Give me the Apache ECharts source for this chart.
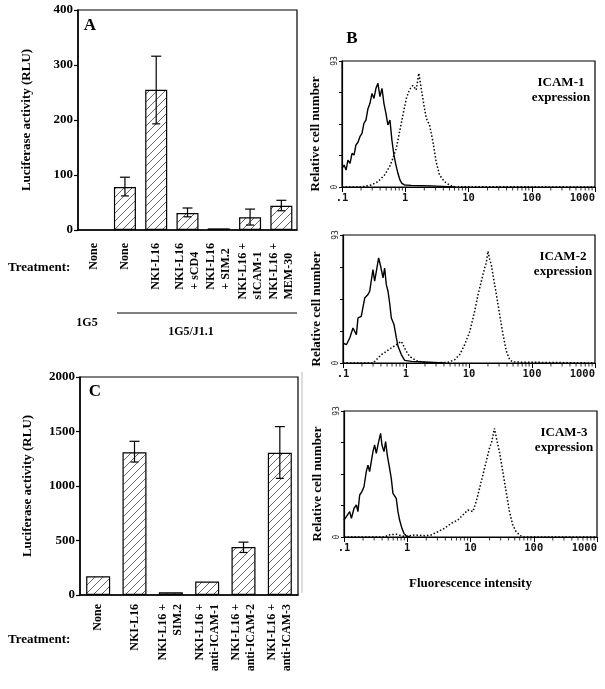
<!DOCTYPE html>
<html><head><meta charset="utf-8">
<script src="https://cdn.jsdelivr.net/npm/echarts@6/dist/echarts.min.js"></script>
<style>html,body{margin:0;padding:0;background:#fff}#c{width:605px;height:689px}</style>
</head><body><div id="c"></div><script>
// ---------- Panel A ----------
const catsA = ['None','None','NKI-L16','NKI-L16\n+ sCD4','NKI-L16\n+ SIM.2','NKI-L16 +\nsICAM-1','NKI-L16 +\nMEM-30'];
const valsA = [null, 78, 255, 31, 3, 23, 44];
const errLowA = [null, 62, 193, 24, null, 9, 35];
const errHighA = [null, 96, 316, 40, null, 38, 54];
// ---------- Panel C ----------
const catsC = ['None','NKI-L16','NKI-L16 +\nSIM.2','NKI-L16 +\nanti-ICAM-1','NKI-L16 +\nanti-ICAM-2','NKI-L16 +\nanti-ICAM-3'];
const valsC = [172, 1310, 25, 124, 440, 1305];
const errLowC = [null, 1220, null, null, 390, 1070];
const errHighC = [null, 1410, null, null, 485, 1545];
// ---------- Panel B (flow cytometry histograms) ----------
const tickLabelsB = ['.1','1','10','100','1000'];
const minorTicksB = [0.2,0.3,0.4,0.5,0.6,0.7,0.8,0.9,2,3,4,5,6,7,8,9,20,30,40,50,60,70,80,90,200,300,400,500,600,700,800,900];
const icam1Solid = [[0.100,13.8],[0.108,16.2],[0.116,12.5],[0.124,19.9],[0.134,17.5],[0.144,24.8],[0.155,23.6],[0.166,31],[0.179,33],[0.192,37.1],[0.207,39.6],[0.222,47],[0.239,49.4],[0.258,58],[0.277,61.8],[0.298,69.1],[0.320,65.4],[0.344,72.8],[0.370,76.5],[0.398,66.7],[0.429,72.8],[0.460,61.8],[0.495,54.4],[0.532,45.8],[0.573,49.4],[0.615,34.7],[0.662,23.6],[0.713,16.2],[0.766,10.1],[0.824,5.2],[0.885,2.7],[0.975,1.5],[1.24,1.2],[1.79,1.0],[2.58,0.8],[4.72,0.3],[6.0,0]];
const icam1Dotted = [[0.1,0],[0.2,0],[0.29,1.5],[0.37,3.9],[0.472,8.9],[0.566,15],[0.638,21.2],[0.721,28.5],[0.815,40.8],[0.918,53.1],[1.04,65.4],[1.17,72],[1.32,75],[1.49,71.6],[1.64,83.9],[1.79,72.8],[1.97,60.5],[2.15,50.7],[2.42,45.8],[2.74,33.5],[3.08,18.7],[3.48,8.9],[4.18,3.9],[5.01,1.5],[6.01,0.2],[1000,0]];
const icam2Solid = [[0.100,14.5],[0.113,13.3],[0.128,18.2],[0.144,25.4],[0.163,20.6],[0.173,32.7],[0.195,33.9],[0.221,47.2],[0.249,49.7],[0.265,52.1],[0.299,67.8],[0.318,59.4],[0.338,66.6],[0.368,76.3],[0.396,70.3],[0.432,61.8],[0.458,69],[0.487,56.9],[0.518,52.1],[0.550,43.6],[0.585,32.7],[0.645,27.9],[0.703,18.2],[0.747,12.1],[0.843,6.1],[0.953,1.9],[1.22,1.2],[1.98,0.7],[4,0]];
const icam2Dotted = [[0.1,0],[0.3,0],[0.338,2.4],[0.406,6.1],[0.487,8.5],[0.585,10.9],[0.703,13.3],[0.843,15.7],[1.01,8.5],[1.14,4.8],[1.37,2.4],[1.55,1.2],[2.5,0],[4.64,0.5],[5.92,2.4],[7.11,6.1],[8.53,13.3],[10.3,23],[12.3,37.5],[13.9,49.7],[15.7,59.4],[17.7,69],[18.8,72.7],[20.0,81.2],[21.3,75.1],[22.6,71.5],[24.0,64.2],[27.2,49.7],[30.7,35.1],[34.7,20.6],[39.2,8.5],[44.3,2.4],[49.9,0.7],[1000,0]];
const icam3Solid = [[0.100,12.5],[0.109,15],[0.123,18.7],[0.131,13.8],[0.144,21.2],[0.157,23.6],[0.166,18.7],[0.177,31],[0.192,33.5],[0.207,37.1],[0.225,48.2],[0.239,53.1],[0.254,48.2],[0.270,55.6],[0.287,63],[0.305,67.9],[0.324,61.7],[0.353,70.4],[0.379,76.5],[0.398,67.9],[0.429,63],[0.455,70.4],[0.483,60.5],[0.526,50.7],[0.559,43.3],[0.594,32.2],[0.670,28.5],[0.713,18.7],[0.757,12.5],[0.824,6.4],[0.885,2.7],[0.964,0.7],[1.1,0]];
const icam3Dotted = [[0.1,0],[0.45,0],[0.495,1.5],[0.67,2],[0.8,1],[0.908,0.5],[1.31,1.5],[1.88,1],[2.39,1.5],[3.05,3.9],[3.88,6.4],[4.95,10.1],[6.31,12.5],[7.57,16.2],[9.08,19.9],[10.9,18.7],[12.3,26.1],[13.9,35.9],[15.7,45.8],[17.7,55.6],[19.9,65.4],[21.7,70.4],[23.9,80.2],[26.4,70.4],[28.7,63],[32.4,48.2],[36.6,33.5],[41.3,18.7],[46.6,8.9],[52.6,3.9],[61.5,1],[70,0],[1000,0]];
const panelsB = [
  {solid: icam1Solid, dotted: icam1Dotted, label: 'ICAM-1\nexpression'},
  {solid: icam2Solid, dotted: icam2Dotted, label: 'ICAM-2\nexpression'},
  {solid: icam3Solid, dotted: icam3Dotted, label: 'ICAM-3\nexpression'}
];

function makeHatch(){
  const c = document.createElement('canvas'); c.width = 8; c.height = 8;
  const g = c.getContext('2d');
  g.strokeStyle = '#555'; g.lineWidth = 0.9;
  g.beginPath();
  g.moveTo(0,8); g.lineTo(8,0);
  g.moveTo(-2,2); g.lineTo(2,-2);
  g.moveTo(6,10); g.lineTo(10,6);
  g.stroke();
  return c;
}
const hatch = {image: makeHatch(), repeat: 'repeat'};
const serif = '"Liberation Serif", "Times New Roman", serif';
const mono = '"DejaVu Sans Mono", monospace';

function errData(lo, hi){
  const out = [];
  lo.forEach((l, i) => { if (l != null) out.push([i, l, hi[i]]); });
  return out;
}
function errRender(params, api){
  const x = api.value(0), lo = api.value(1), hi = api.value(2);
  const a = api.coord([x, lo]), b = api.coord([x, hi]);
  const w = 5, st = {stroke:'#000', lineWidth:1.2};
  return {type:'group', children:[
    {type:'line', shape:{x1:a[0], y1:a[1], x2:b[0], y2:b[1]}, style:st},
    {type:'line', shape:{x1:b[0]-w, y1:b[1], x2:b[0]+w, y2:b[1]}, style:st},
    {type:'line', shape:{x1:a[0]-w+1, y1:a[1], x2:a[0]+w-1, y2:a[1]}, style:st}
  ]};
}

const catLabel = (size, leftAlign) => ({
  rotate: 90, interval: 0, color:'#000', fontFamily: serif, fontWeight:'bold', fontSize: size, lineHeight: 15,
  formatter: leftAlign ? (v => v.split('\n').map(s => '{l|' + s + '}').join('\n')) : undefined,
  rich: leftAlign ? {l: {align:'left', fontFamily: serif, fontWeight:'bold', fontSize: size, lineHeight: 15, color:'#000'}} : undefined
});

const grids = [
  {left:78, top:10, width:219, height:220},
  {left:80, top:377, width:218, height:218},
  {left:342, top:61, width:253, height:126},
  {left:343, top:235, width:252, height:128},
  {left:344, top:411, width:253, height:126}
].map(g => Object.assign({show:true, borderColor:'#000', borderWidth:1.2, containLabel:false, outerBoundsMode:'none'}, g));

const plainNum = v => String(v);
const xAxes = [
  {gridIndex:0, type:'category', data: catsA,
    axisLine:{lineStyle:{color:'#000', width:1.5}},
    axisTick:{alignWithLabel:true, length:5, lineStyle:{color:'#000', width:1.2}},
    axisLabel: Object.assign(catLabel(12, true), {margin: 13})},
  {gridIndex:1, type:'category', data: catsC,
    axisLine:{lineStyle:{color:'#000', width:1.5}},
    axisTick:{alignWithLabel:true, length:5, lineStyle:{color:'#000', width:1.2}},
    axisLabel: Object.assign(catLabel(12, false), {margin: 9})}
];
const yAxes = [
  {gridIndex:0, type:'value', min:0, max:400, interval:100,
    name:'Luciferase activity (RLU)', nameLocation:'middle', nameGap:45,
    nameTextStyle:{fontFamily:serif, fontWeight:'bold', fontSize:13, color:'#000'},
    axisLine:{show:true, lineStyle:{color:'#000', width:1.5}},
    axisTick:{show:true, length:4, lineStyle:{color:'#000', width:1.2}},
    axisLabel:{fontFamily:serif, fontWeight:'bold', fontSize:13, color:'#000', margin:5, formatter: plainNum},
    splitLine:{show:false}},
  {gridIndex:1, type:'value', min:0, max:2000, interval:500,
    name:'Luciferase activity (RLU)', nameLocation:'middle', nameGap:46,
    nameTextStyle:{fontFamily:serif, fontWeight:'bold', fontSize:13, color:'#000'},
    axisLine:{show:true, lineStyle:{color:'#000', width:1.5}},
    axisTick:{show:true, length:4, lineStyle:{color:'#000', width:1.2}},
    axisLabel:{fontFamily:serif, fontWeight:'bold', fontSize:13, color:'#000', margin:5, formatter: plainNum},
    splitLine:{show:false}}
];
const series = [
  {type:'bar', xAxisIndex:0, yAxisIndex:0, data: valsA, barWidth:22,
    itemStyle:{color: hatch, borderColor:'#000', borderWidth:1.2}},
  {type:'custom', xAxisIndex:0, yAxisIndex:0, data: errData(errLowA, errHighA), renderItem: errRender, z:5, encode:{x:0, y:[1,2]}},
  {type:'bar', xAxisIndex:1, yAxisIndex:1, data: valsC, barWidth:24,
    itemStyle:{color: hatch, borderColor:'#000', borderWidth:1.2}},
  {type:'custom', xAxisIndex:1, yAxisIndex:1, data: errData(errLowC, errHighC), renderItem: errRender, z:5, encode:{x:0, y:[1,2]}}
];

panelsB.forEach((p, k) => {
  const gi = k + 2;
  xAxes.push({gridIndex: gi, type:'log', logBase:10, min:0.1, max:1000,
    name: k === 2 ? 'Fluorescence intensity' : '', nameLocation:'middle', nameGap:40,
    nameTextStyle:{fontFamily:serif, fontWeight:'bold', fontSize:13, color:'#000'},
    axisLine:{lineStyle:{color:'#000', width:1.2}},
    axisTick:{length:5, lineStyle:{color:'#000', width:1}},
    axisLabel:{fontFamily:mono, fontWeight:'bold', fontSize:10.5, color:'#111', margin:6,
      showMinLabel:true, showMaxLabel:true, alignMaxLabel:'right',
      formatter: v => tickLabelsB[Math.round(Math.log10(v)) + 1]},
    splitLine:{show:false}, minorTick:{show:false}});
  yAxes.push({gridIndex: gi, type:'value', min:0, max:93, interval:23.25,
    name:'Relative cell number', nameLocation:'middle', nameGap:20,
    nameTextStyle:{fontFamily:serif, fontWeight:'bold', fontSize:13, color:'#000', padding:[0,20,0,0]},
    axisLine:{show:true, lineStyle:{color:'#000', width:1.2}},
    axisTick:{show:true, length:3, lineStyle:{color:'#000', width:1}},
    axisLabel:{rotate:90, fontFamily:mono, fontSize:8, color:'#222', margin:3,
      formatter: v => (v === 0 || v === 93) ? String(v) : ''},
    splitLine:{show:false}});
  series.push({type:'line', xAxisIndex: gi, yAxisIndex: gi, data: p.dotted, showSymbol:false, symbol:'none',
    lineStyle:{color:'#000', width:1.5, type:[1.5, 2]}, z:3});
  series.push({type:'line', xAxisIndex: gi, yAxisIndex: gi, data: p.solid, showSymbol:false, symbol:'none',
    lineStyle:{color:'#000', width:1.4}, z:4});
  series.push({type:'scatter', xAxisIndex: gi, yAxisIndex: gi, data: minorTicksB.map(v => [v, 0]),
    symbol:'rect', symbolSize:[1, 3], symbolOffset:[0, 2], clip:false, silent:true,
    itemStyle:{color:'#000'}, z:2});
});

const T = (text, x, y, size, align, vAlign, extra) => Object.assign({type:'text', x, y, silent:true,
  style:{text, font:'bold ' + size + 'px ' + serif, fill:'#000', align: align || 'center', verticalAlign: vAlign || 'middle'}}, extra || {});
const graphics = [
  T('A', 90, 26, 17),
  T('B', 352, 39, 17),
  T('C', 95, 392, 17),
  T('Treatment:', 8, 268, 13, 'left'),
  T('Treatment:', 8, 640, 13, 'left'),
  T('1G5', 87, 323, 12),
  T('1G5/J1.1', 191, 332, 12),
  {type:'line', shape:{x1:117, y1:313, x2:297, y2:313}, style:{stroke:'#000', lineWidth:1.2}, silent:true},
  {type:'line', shape:{x1:302, y1:372, x2:302, y2:593}, style:{stroke:'#bbb', lineWidth:1}, silent:true}
];
const labelY = [90, 264, 440];
const labelX = [561, 563, 564];
panelsB.forEach((p, k) => {
  const t = T(p.label, labelX[k], labelY[k], 13);
  t.style.lineHeight = 15;
  graphics.push(t);
});

const chart = echarts.init(document.getElementById('c'), null, {renderer:'canvas'});
chart.setOption({
  animation:false,
  backgroundColor:'#fff',
  grid: grids,
  xAxis: xAxes,
  yAxis: yAxes,
  series: series,
  graphic: graphics
});
</script></body></html>
